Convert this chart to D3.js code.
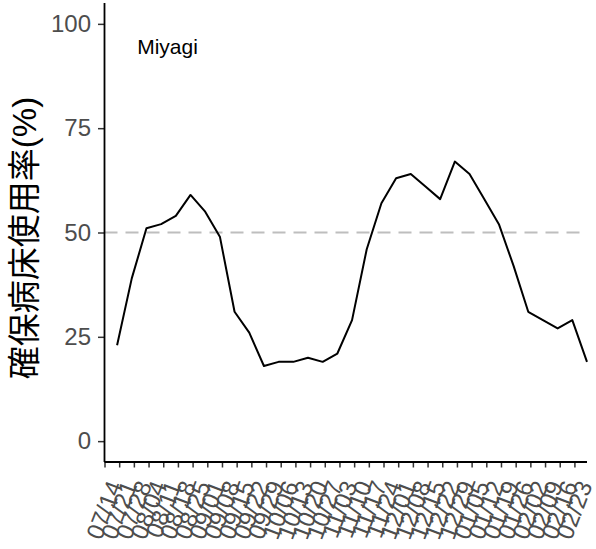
<!DOCTYPE html>
<html>
<head>
<meta charset="utf-8">
<script src="https://cdn.jsdelivr.net/npm/d3@7"></script>
<style>
  html, body { margin: 0; padding: 0; background: #fff; }
  svg { display: block; }
</style>
</head>
<body>
<div id="chart"></div>
<script>
// ---- data ----
const dataDates = [
  "2020-07-20","2020-07-27","2020-08-03","2020-08-10","2020-08-17","2020-08-24","2020-08-31",
  "2020-09-07","2020-09-14","2020-09-21","2020-09-28","2020-10-05","2020-10-12","2020-10-19",
  "2020-10-26","2020-11-02","2020-11-09","2020-11-16","2020-11-23","2020-11-30","2020-12-07",
  "2020-12-14","2020-12-21","2020-12-28","2021-01-04","2021-01-11","2021-01-18","2021-01-25",
  "2021-02-01","2021-02-08","2021-02-15","2021-02-22","2021-03-01"
];
const occupancy = [
  23, 39, 51, 52, 54, 59, 55, 49, 31, 26, 18, 19, 19, 20, 19, 21, 29,
  46, 57, 63, 64, 61, 58, 67, 64, 58, 52, 42, 31, 29, 27, 29, 19
];
const tickDates = [
  "2020-07-14","2020-07-21","2020-07-28","2020-08-04","2020-08-11","2020-08-18","2020-08-25",
  "2020-09-01","2020-09-08","2020-09-15","2020-09-22","2020-09-29","2020-10-06","2020-10-13",
  "2020-10-20","2020-10-27","2020-11-03","2020-11-10","2020-11-17","2020-11-24","2020-12-01",
  "2020-12-08","2020-12-15","2020-12-22","2020-12-29","2021-01-05","2021-01-12","2021-01-19",
  "2021-01-26","2021-02-02","2021-02-09","2021-02-16","2021-02-23"
];
const yTicks = [0, 25, 50, 75, 100];
const refLine = 50;
const yTitle = "確保病床使用率(%)";
const panelLabel = "Miyagi";

// ---- layout ----
const W = 596, H = 549;
const mLeft = 104.5, mRight = 587, mTop = 3, mBottom = 462;

const parse = d3.utcParse("%Y-%m-%d");
const fmt = d3.utcFormat("%m/%d");
const series = dataDates.map((d, i) => ({ date: parse(d), value: occupancy[i] }));

const x = d3.scaleUtc()
  .domain([parse(tickDates[0]), parse(dataDates[dataDates.length - 1])])
  .range([mLeft, mRight]);
const y = d3.scaleLinear().domain([-5, 105]).range([mBottom, mTop]);

const svg = d3.select("#chart").append("svg")
  .attr("width", W).attr("height", H)
  .style("font-family", "'Liberation Sans', Arial, sans-serif");

// reference dashed line
svg.append("line")
  .attr("x1", mLeft).attr("x2", mRight)
  .attr("y1", y(refLine)).attr("y2", y(refLine))
  .attr("stroke", "#BEBEBE").attr("stroke-width", 2)
  .attr("stroke-dasharray", "13,8");

// data line
svg.append("path")
  .datum(series)
  .attr("fill", "none")
  .attr("stroke", "#000")
  .attr("stroke-width", 2)
  .attr("stroke-linejoin", "round")
  .attr("d", d3.line().x(d => x(d.date)).y(d => y(d.value)));

// y axis
const yAxis = svg.append("g")
  .attr("transform", `translate(${mLeft},0)`)
  .call(d3.axisLeft(y).tickValues(yTicks).tickSize(6.5).tickPadding(7));
yAxis.select(".domain").remove();
yAxis.selectAll(".tick line").attr("stroke", "#333").attr("stroke-width", 1.5);
yAxis.selectAll(".tick text")
  .attr("fill", "#4D4D4D")
  .style("font-size", "24px");

// x axis
const xAxis = svg.append("g")
  .attr("transform", `translate(0,${mBottom})`)
  .call(d3.axisBottom(x).tickValues(tickDates.map(parse)).tickFormat(fmt).tickSize(5.5));
xAxis.select(".domain").remove();
xAxis.selectAll(".tick line").attr("stroke", "#333").attr("stroke-width", 1.5);
xAxis.selectAll(".tick text")
  .attr("fill", "#4D4D4D")
  .style("font-size", "24px")
  .attr("x", 0).attr("y", 0)
  .attr("dy", "0.35em")
  .attr("text-anchor", "end")
  .attr("transform", "translate(10,20) rotate(-69)");

// axis lines
svg.append("line")
  .attr("x1", mLeft).attr("x2", mLeft).attr("y1", mTop).attr("y2", mBottom)
  .attr("stroke", "#000").attr("stroke-width", 1.8);
svg.append("line")
  .attr("x1", mLeft).attr("x2", mRight).attr("y1", mBottom).attr("y2", mBottom)
  .attr("stroke", "#000").attr("stroke-width", 1.8);

// panel label
svg.append("text")
  .attr("x", 167.5).attr("y", 54)
  .attr("text-anchor", "middle")
  .style("font-size", "21px")
  .attr("fill", "#000")
  .text(panelLabel);

// y title
svg.append("text")
  .attr("transform", `translate(24,238) rotate(-90)`)
  .attr("text-anchor", "middle")
  .attr("dy", "0.35em")
  .style("font-family", "'Liberation Sans', 'Noto Sans CJK JP', sans-serif")
  .style("font-size", "33px")
  .attr("fill", "#000")
  .text(yTitle);
</script>
</body>
</html>
